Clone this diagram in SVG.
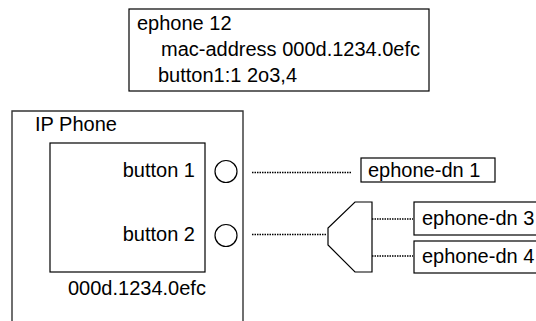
<svg xmlns="http://www.w3.org/2000/svg" width="536" height="321" viewBox="0 0 536 321">
<style>
text{font-family:"Liberation Sans",Arial,sans-serif;font-size:20px;fill:#000}
.box{fill:#fff;stroke:#000;stroke-width:1.2}
.dot{fill:none;stroke:#000;stroke-width:1.5;stroke-dasharray:1.5 1}
</style>
<rect width="536" height="321" fill="#fff"/>
<g id="config">
<rect class="box" x="129" y="9" width="300" height="82"/>
<text x="137" y="30">ephone 12</text>
<text x="161" y="56">mac-address 000d.1234.0efc</text>
<text x="158" y="82">button1:1 2o3,4</text>
</g>
<g id="ipphone">
<path d="M12,330 V111 H243 V330" fill="none" stroke="#333" stroke-width="1.4"/>
<text x="35" y="131">IP Phone</text>
<rect class="box" x="50" y="143" width="155" height="129"/>
<text x="195" y="177" text-anchor="end">button 1</text>
<text x="195" y="241" text-anchor="end">button 2</text>
<circle class="box" cx="226" cy="171.5" r="11"/>
<circle class="box" cx="226" cy="235.5" r="11"/>
<text x="68" y="295">000d.1234.0efc</text>
</g>
<g id="splitter">
<polygon class="box" points="355,202 372,202 372,272 355,272 328,245 328,228"/>
</g>
<g id="dn1">
<rect class="box" x="361" y="158" width="134" height="24"/>
<text x="368" y="177">ephone-dn 1</text>
</g>
<g id="dn3">
<rect class="box" x="414" y="202" width="140" height="33"/>
<text x="422" y="225">ephone-dn 3</text>
</g>
<g id="dn4">
<rect class="box" x="414" y="241" width="140" height="32"/>
<text x="422" y="263">ephone-dn 4</text>
</g>
<g id="connectors">
<line class="dot" x1="252" y1="172.5" x2="352" y2="172.5"/>
<line class="dot" x1="252" y1="234.5" x2="327" y2="234.5"/>
<line class="dot" x1="372" y1="219" x2="413" y2="219"/>
<line class="dot" x1="372" y1="256" x2="413" y2="256"/>
</g>
</svg>
